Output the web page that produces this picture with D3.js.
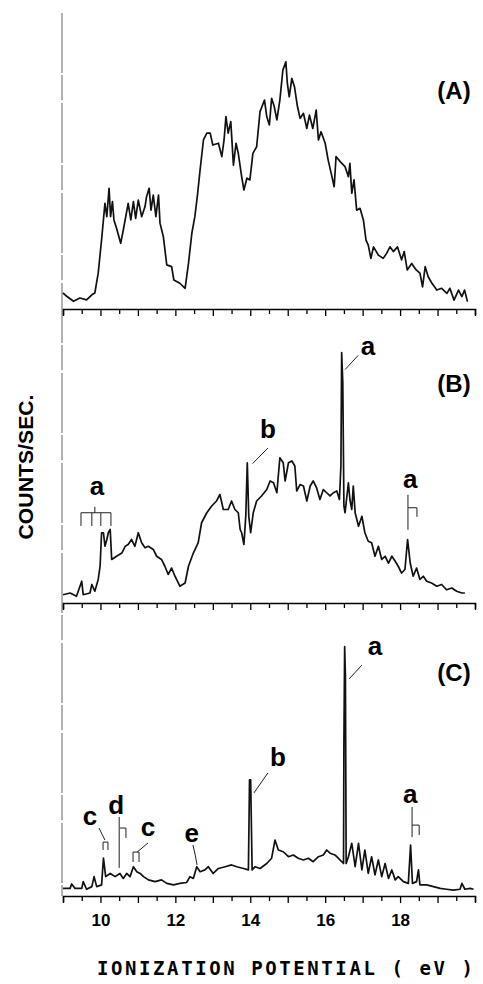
<!DOCTYPE html>
<html>
<head>
<meta charset="utf-8">
<script src="https://cdn.jsdelivr.net/npm/d3@7"></script>
<style>
  body { margin: 0; background: #fff; }
  svg { display: block; }
</style>
</head>
<body>
<script>
// spectra, [eV, counts] (counts in % of panel height)
let spectrumA = [[9.00,5.4],[9.10,4.3],[9.28,2.6],[9.45,3.7],[9.63,3.1],[9.77,4.8],[9.85,5.4],[9.94,12.1],[10.03,23.4],[10.12,35.7],[10.17,31.2],[10.23,40.8],[10.27,31.2],[10.32,36.3],[10.36,30.1],[10.43,27.3],[10.54,22.2],[10.61,26.7],[10.74,35.7],[10.81,30.1],[10.88,36.3],[10.94,30.6],[11.01,36.8],[11.10,31.2],[11.19,34.6],[11.23,37.9],[11.30,40.8],[11.35,33.4],[11.41,38.5],[11.48,31.2],[11.55,38.5],[11.59,29.0],[11.68,24.4],[11.77,14.9],[11.90,14.3],[11.96,9.8],[12.12,8.7],[12.26,7.0],[12.35,15.4],[12.44,25.6],[12.52,31.2],[12.59,38.5],[12.66,47.0],[12.75,57.1],[12.84,59.4],[12.93,59.4],[13.00,55.4],[13.15,56.0],[13.24,51.5],[13.30,57.1],[13.35,65.0],[13.41,59.4],[13.48,63.3],[13.55,48.6],[13.62,56.0],[13.68,52.6],[13.77,44.7],[13.83,40.2],[13.91,44.2],[13.99,43.6],[14.07,52.6],[14.17,54.8],[14.26,66.7],[14.38,70.6],[14.44,65.0],[14.51,62.2],[14.57,71.2],[14.64,68.4],[14.71,63.9],[14.79,70.6],[14.87,80.7],[14.95,83.5],[14.99,76.2],[15.04,71.7],[15.11,77.9],[15.18,75.1],[15.26,68.4],[15.33,64.4],[15.42,66.1],[15.51,61.0],[15.58,65.5],[15.67,61.0],[15.76,67.2],[15.82,57.1],[15.89,59.9],[16.00,56.0],[16.08,50.3],[16.17,45.3],[16.24,41.3],[16.29,51.5],[16.40,49.8],[16.53,48.1],[16.62,44.7],[16.66,49.2],[16.71,39.1],[16.77,43.6],[16.84,33.4],[16.93,34.0],[17.02,30.1],[17.09,23.3],[17.15,21.6],[17.22,17.1],[17.29,21.0],[17.42,18.2],[17.55,17.1],[17.64,18.8],[17.73,21.0],[17.82,19.4],[17.93,21.0],[18.04,16.6],[18.11,19.4],[18.19,13.2],[18.31,15.4],[18.43,13.2],[18.53,12.1],[18.60,7.5],[18.67,14.3],[18.75,10.9],[18.85,8.7],[18.98,6.4],[19.11,7.0],[19.25,5.3],[19.33,7.0],[19.44,3.0],[19.56,6.4],[19.65,4.2],[19.72,6.4],[19.80,2.5]];

let spectrumB = [[9.00,2.8],[9.19,3.4],[9.36,2.3],[9.50,7.4],[9.54,2.8],[9.72,3.4],[9.77,6.3],[9.85,4.0],[9.94,8.0],[9.99,12.5],[10.03,23.9],[10.08,23.9],[10.12,19.3],[10.17,21.6],[10.21,23.9],[10.26,25.0],[10.30,14.8],[10.43,15.9],[10.57,17.0],[10.66,19.3],[10.74,19.9],[10.83,21.6],[10.92,19.3],[11.01,23.9],[11.10,20.5],[11.19,18.8],[11.28,19.3],[11.41,18.2],[11.50,15.9],[11.63,14.8],[11.72,12.5],[11.81,9.7],[11.90,11.9],[11.99,9.1],[12.12,5.7],[12.26,6.8],[12.35,12.5],[12.48,17.0],[12.61,20.5],[12.70,27.3],[12.84,30.7],[12.97,33.0],[13.10,34.7],[13.19,36.9],[13.28,31.8],[13.41,31.8],[13.50,34.7],[13.59,31.8],[13.68,30.7],[13.73,25.0],[13.77,23.9],[13.83,19.9],[13.88,29.5],[13.92,47.7],[13.96,29.5],[14.01,23.9],[14.08,30.7],[14.17,34.7],[14.30,36.4],[14.44,38.6],[14.53,41.5],[14.62,40.9],[14.71,37.5],[14.79,49.4],[14.88,47.7],[14.93,41.5],[15.02,47.7],[15.11,48.3],[15.19,46.6],[15.24,38.1],[15.33,40.3],[15.42,39.8],[15.51,34.7],[15.60,39.8],[15.68,41.5],[15.77,39.2],[15.86,35.2],[15.95,38.6],[16.04,37.5],[16.13,36.4],[16.22,37.5],[16.31,38.1],[16.38,35.2],[16.42,46.6],[16.44,85.2],[16.47,75.0],[16.50,33.0],[16.53,30.7],[16.57,35.2],[16.62,40.9],[16.66,35.2],[16.71,31.8],[16.75,39.8],[16.80,30.7],[16.89,26.1],[16.98,29.5],[17.06,23.9],[17.15,21.0],[17.24,20.5],[17.33,15.9],[17.42,19.3],[17.51,14.8],[17.60,15.9],[17.69,13.6],[17.78,15.9],[17.87,14.2],[17.95,12.5],[18.04,10.2],[18.13,11.4],[18.20,21.6],[18.27,13.6],[18.35,9.1],[18.44,11.9],[18.53,8.0],[18.62,9.1],[18.71,7.4],[18.84,6.8],[18.98,5.7],[19.11,6.3],[19.24,4.5],[19.38,5.1],[19.51,4.0],[19.65,3.4],[19.73,3.4]];

let spectrumC = [[9.00,2.6],[9.19,2.6],[9.23,4.1],[9.32,2.6],[9.50,2.6],[9.54,4.9],[9.63,2.3],[9.77,3.2],[9.83,6.6],[9.90,3.2],[10.03,3.8],[10.08,12.9],[10.14,6.6],[10.26,7.7],[10.39,6.6],[10.52,7.7],[10.61,6.0],[10.70,7.7],[10.79,6.6],[10.88,10.0],[10.97,8.3],[11.06,7.7],[11.15,6.6],[11.28,5.5],[11.46,4.9],[11.63,5.5],[11.77,4.3],[11.95,3.8],[12.12,4.3],[12.30,4.6],[12.39,6.6],[12.48,6.0],[12.57,10.0],[12.66,8.3],[12.79,8.9],[12.88,10.0],[13.01,7.7],[13.15,9.4],[13.33,10.0],[13.50,10.6],[13.64,10.0],[13.82,9.4],[13.95,8.9],[13.98,39.6],[14.01,39.6],[14.05,8.9],[14.13,10.0],[14.26,9.4],[14.44,11.1],[14.57,12.9],[14.66,19.1],[14.75,15.7],[14.88,15.1],[15.02,13.4],[15.15,14.0],[15.28,12.9],[15.42,12.3],[15.55,12.9],[15.68,11.7],[15.82,13.4],[15.95,14.0],[16.04,15.7],[16.13,14.6],[16.26,14.0],[16.35,12.9],[16.44,11.7],[16.49,11.1],[16.50,52.1],[16.52,85.1],[16.54,74.9],[16.56,11.1],[16.62,13.4],[16.71,18.0],[16.80,10.0],[16.89,18.0],[16.98,8.9],[17.06,15.7],[17.15,7.7],[17.24,13.4],[17.33,7.2],[17.42,12.3],[17.51,6.6],[17.60,11.1],[17.69,6.0],[17.78,8.9],[17.87,5.5],[17.95,6.6],[18.09,4.9],[18.22,4.3],[18.28,17.4],[18.33,4.3],[18.44,4.9],[18.49,8.9],[18.53,3.8],[18.71,3.8],[18.89,3.2],[19.07,2.6],[19.24,2.3],[19.42,2.0],[19.60,2.3],[19.65,4.3],[19.73,2.3],[19.87,2.6],[19.96,2.3]];

let panelNames = ['(A)', '(B)', '(C)'];
let tickLabels = [10, 12, 14, 16, 18];
let xTitle = 'IONIZATION POTENTIAL  ( eV )';
let yTitle = 'COUNTS/SEC.';

// peak assignments: letter, [eV, counts] of the letter, leader / bracket polylines
let notesB = [
    {t: 'a', at: [17.14, 84.5], paths: [[[16.88, 84.2], [16.53, 79.4]]]},
    {t: 'b', at: [14.47, 56.2], paths: [[[14.47, 52.7], [14.06, 47.4]]]},
    {t: 'a', at: [9.91, 36.8], paths: [[[9.85, 32.7], [9.85, 30.7]],
        [[9.48, 26.2], [9.48, 30.7], [10.28, 30.7], [10.28, 26.2]],
        [[9.77, 30.7], [9.77, 26.2]], [[10.01, 30.7], [10.01, 26.2]]]},
    {t: 'a', at: [18.27, 39.2], paths: [[[18.21, 36.8], [18.21, 24.9]],
        [[18.21, 32.4], [18.45, 32.4], [18.45, 29.3]]]}
];
let notesC = [
    {t: 'a', at: [17.33, 82.3], paths: [[[16.98, 78.8], [16.64, 74.1]]]},
    {t: 'b', at: [14.74, 44.4], paths: [[[14.47, 42.0], [14.10, 35.2]]]},
    {t: 'a', at: [18.27, 31.7], paths: [[[18.32, 30.4], [18.32, 20.1]],
        [[18.32, 24.2], [18.51, 24.2], [18.51, 20.8]]]},
    {t: 'c', at: [9.72, 24.2], paths: [[[9.96, 23.2], [10.12, 19.1]],
        [[10.07, 15.7], [10.07, 18.4], [10.20, 18.4], [10.20, 15.7]]]},
    {t: 'd', at: [10.42, 28.0], paths: [[[10.50, 27.0], [10.50, 9.6]],
        [[10.52, 23.2], [10.68, 23.2], [10.68, 19.8]]]},
    {t: 'c', at: [11.27, 20.5], paths: [[[11.27, 18.1], [10.98, 15.0]],
        [[10.87, 11.6], [10.87, 15.0], [11.03, 15.0], [11.03, 11.6]]]},
    {t: 'e', at: [12.44, 18.4], paths: [[[12.47, 17.4], [12.53, 14.0], [12.58, 10.6]]]}
];

let svgWidth = 483;
let svgHeight = 984;

let svg = d3.select('body')
    .append('svg')
    .attr('width', svgWidth)
    .attr('height', svgHeight);

let xScale = d3.scaleLinear()
    .domain([9, 20])
    .range([63, 475]);

// stacked panels share the x axis; each one's bottom axis is the next one's top
let panels = [
    {name: panelNames[0], data: spectrumA, notes: [], top: 13, bottom: 309, labelY: 99},
    {name: panelNames[1], data: spectrumB, notes: notesB, top: 309, bottom: 603, labelY: 392},
    {name: panelNames[2], data: spectrumC, notes: notesC, top: 603, bottom: 896, labelY: 681}
];

// left axis, faint and broken like the original
svg.append('line')
    .attr('x1', xScale(9) - 1).attr('x2', xScale(9) - 1)
    .attr('y1', 13).attr('y2', 896)
    .attr('stroke', '#666')
    .attr('stroke-width', 1)
    .attr('stroke-dasharray', '60,2,25,3');

let halfTicks = d3.range(9, 20.01, 0.5);

panels.forEach(function(p, i) {
    let yScale = d3.scaleLinear()
        .domain([0, 100])
        .range([p.bottom, p.top]);

    let last = i == panels.length - 1;
    let axis = d3.axisBottom(xScale)
        .tickValues(halfTicks)
        .tickSizeOuter(0)
        .tickSize(6)
        .tickFormat(d => (last && tickLabels.includes(d)) ? d : '');

    let g = svg.append('g')
        .attr('transform', `translate(0, ${p.bottom})`)
        .call(axis);
    g.select('.domain').attr('stroke', '#000').attr('stroke-width', 1.5);
    g.selectAll('.tick line')
        .attr('stroke', '#000')
        .attr('stroke-width', 1.3)
        .attr('y2', d => Number.isInteger(d) ? 7 : 5);
    g.selectAll('.tick text')
        .attr('y', 18)
        .attr('font-family', '"Liberation Sans", Arial, sans-serif')
        .attr('font-weight', 'bold')
        .attr('font-size', 17)
        .attr('fill', '#000');

    let line = d3.line()
        .x(d => xScale(d[0]))
        .y(d => yScale(d[1]));

    svg.append('path')
        .datum(p.data)
        .attr('d', line)
        .attr('fill', 'none')
        .attr('stroke', '#111')
        .attr('stroke-width', 1.7)
        .attr('stroke-linejoin', 'round');

    svg.append('text')
        .attr('x', 454)
        .attr('y', p.labelY)
        .attr('text-anchor', 'middle')
        .attr('font-family', '"Liberation Sans", Arial, sans-serif')
        .attr('font-weight', 'bold')
        .attr('font-size', 24)
        .text(p.name);

    p.notes.forEach(function(n) {
        svg.append('text')
            .attr('x', xScale(n.at[0]))
            .attr('y', yScale(n.at[1]))
            .attr('text-anchor', 'middle')
            .attr('font-family', '"Liberation Sans", Arial, sans-serif')
            .attr('font-weight', 'bold')
            .attr('font-size', 26)
            .text(n.t);
        n.paths.forEach(function(pts) {
            svg.append('path')
                .attr('d', line(pts))
                .attr('fill', 'none')
                .attr('stroke', '#222')
                .attr('stroke-width', 1);
        });
    });
});

// axis titles
svg.append('text')
    .attr('transform', 'translate(33, 467) rotate(-90)')
    .attr('text-anchor', 'middle')
    .attr('font-family', '"Liberation Sans", Arial, sans-serif')
    .attr('font-weight', 'bold')
    .attr('font-size', 21)
    .attr('textLength', 145)
    .attr('lengthAdjust', 'spacingAndGlyphs')
    .text(yTitle);

svg.append('text')
    .attr('x', 97)
    .attr('y', 975)
    .attr('font-family', '"DejaVu Sans Mono", monospace')
    .attr('font-weight', 'bold')
    .attr('font-size', 19)
    .attr('textLength', 376)
    .attr('lengthAdjust', 'spacing')
    .text(xTitle);
</script>
</body>
</html>
